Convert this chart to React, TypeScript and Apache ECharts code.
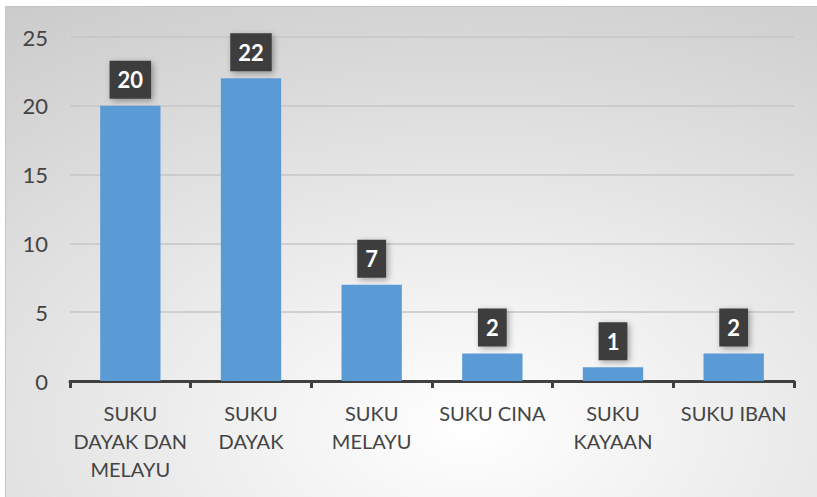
import React, { useEffect, useRef } from "react";
import * as echarts from "echarts";

const categories = [
  "SUKU\nDAYAK DAN\nMELAYU",
  "SUKU\nDAYAK",
  "SUKU\nMELAYU",
  "SUKU CINA",
  "SUKU\nKAYAAN",
  "SUKU IBAN",
];
const values = [20, 22, 7, 2, 1, 2];
const yTicks = { min: 0, max: 25, interval: 5 };

export default function App() {
  const ref = useRef<HTMLDivElement>(null);
  useEffect(() => {
    document.body.style.margin = "0";
    const chart = echarts.init(ref.current!, null, { renderer: "svg" });
    chart.setOption({
      animation: false,
      backgroundColor: "transparent",
      textStyle: { fontFamily: "Lato" },
      graphic: [
        {
          type: "rect",
          z: -10,
          silent: true,
          shape: { x: 5.5, y: 6.5, width: 812, height: 495 },
          style: {
            fill: {
              type: "radial",
              x: 0.57,
              y: 0.85,
              r: 1.2,
              colorStops: [
                { offset: 0, color: "#ffffff" },
                { offset: 1, color: "#c2c2c2" },
              ],
            },
            stroke: "#c4c4c4",
            lineWidth: 1,
          },
        },
      ],
      grid: { left: 70, right: 23, top: 37, bottom: 116, containLabel: false },
      xAxis: {
        type: "category",
        data: categories,
        axisLine: { lineStyle: { color: "#404040", width: 3 } },
        axisTick: { show: true, length: 7, lineStyle: { color: "#404040", width: 3 } },
        axisLabel: {
          color: "#444444",
          fontSize: 20,
          lineHeight: 28,
          margin: 18,
          interval: 0,
        },
      },
      yAxis: {
        type: "value",
        min: yTicks.min,
        max: yTicks.max,
        interval: yTicks.interval,
        axisLine: { show: false },
        axisTick: { show: false },
        axisLabel: { color: "#444444", fontSize: 22, margin: 22 },
        splitLine: { lineStyle: { color: "#c6c6c6", width: 1.5 } },
      },
      series: [
        {
          type: "bar",
          data: values,
          barWidth: "50%",
          itemStyle: { color: "#5b9bd5" },
          label: {
            show: true,
            position: "top",
            distance: 7,
            color: "#ffffff",
            fontWeight: "bold",
            fontSize: 22,
            lineHeight: 28,
            backgroundColor: "#3d3d3d",
            padding: [5, 8, 5, 8],
            shadowColor: "rgba(0,0,0,0.35)",
            shadowBlur: 6,
            shadowOffsetX: 2,
            shadowOffsetY: 2,
          },
        },
      ],
    });
    return () => chart.dispose();
  }, []);
  return <div ref={ref} style={{ width: 817, height: 497 }} />;
}
